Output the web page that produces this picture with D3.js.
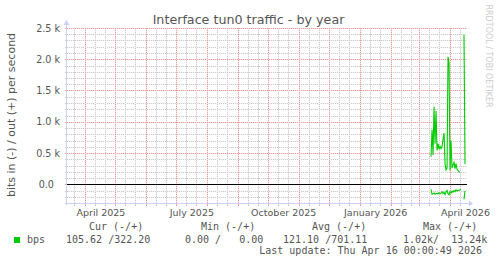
<!DOCTYPE html>
<html>
<head>
<meta charset="utf-8">
<script src="https://cdn.jsdelivr.net/npm/d3@7"></script>
<style>
body { margin: 0; background: #fff; }
svg { display: block; font-family: "DejaVu Sans", sans-serif; }
text { white-space: pre; }
.grid path, .grid rect { shape-rendering: crispEdges; }
</style>
</head>
<body>
<svg width="497" height="264"></svg>
<script>
// données (une valeur par jour)
var dates = ["2026-03-13","2026-03-14","2026-03-15","2026-03-16","2026-03-17","2026-03-18","2026-03-19",
    "2026-03-20","2026-03-21","2026-03-22","2026-03-23","2026-03-24","2026-03-25","2026-03-26",
    "2026-03-27","2026-03-28","2026-03-29","2026-03-30","2026-03-31","2026-04-01","2026-04-02",
    "2026-04-03","2026-04-04","2026-04-05","2026-04-06","2026-04-07","2026-04-08","2026-04-09",
    "2026-04-10","2026-04-11","2026-04-12","2026-04-13","2026-04-14","2026-04-15","2026-04-16"];
var outBps = [440, 870, 470, 1240, 650, 1170, 540, 650, 560, 610, 570, 600, 720, 820,
    330, 230, 260, 2040, 1950, 220, 700, 260, 310, 350, 250, 330, 240, 220,
    200, 190, null, null, null, 2390, 322];
var inBps = [80, 160, 150, 140, 160, 150, 145, 155, 135, 150, 140, 120, 150, 130,
    165, 120, 100, 150, 170, 120, 140, 110, 130, 100, 120, 90, 110, 100,
    95, 90, 85, null, null, 240, 106];
var monthLabels = ["2025-04-16", "2025-07-16", "2025-10-16", "2026-01-16", "2026-04-16"];
var yTicks = [0, 500, 1000, 1500, 2000, 2500];
var legendHeads = ["Cur (-/+)", "Min (-/+)", "Avg (-/+)", "Max (-/+)"];
var legendVals = ["105.62 /322.20", "0.00 /   0.00", "121.10 /701.11", "1.02k/  13.24k"];
var legendHeadX = [89, 201, 312, 423];
var legendValX = [66, 185, 283, 403];

var svg = d3.select("svg");
var plot = {left: 67, right: 467, top: 28, bottom: 203};
var parse = d3.timeParse("%Y-%m-%d");

var x = d3.scaleTime()
    .domain([new Date(2025, 2, 13, 12), new Date(2026, 3, 18)])
    .range([plot.left, plot.right]);
var y = d3.scaleLinear()
    .domain([-300, 2500])
    .range([plot.bottom, plot.top]);

var minorCol = "#cdcdcd", majorCol = "#ee9c9c", axisCol = "#c9d1f7";
var minorBg = "#f1f1f1", majorBg = "#fae0e0";

// pointillés dessinés pixel par pixel (un carré 1x1 sur deux)
function dotsH(yy) {
    var p = d3.path();
    for (var xx = plot.left; xx < plot.right; xx += 2) p.rect(xx, yy, 1, 1);
    return p.toString();
}
function dotsV(xx) {
    var p = d3.path();
    for (var yy = plot.top; yy < plot.bottom; yy += 2) p.rect(xx, yy, 1, 1);
    return p.toString();
}

var g = svg.append("g").attr("class", "grid");
var minorH = y.ticks(28).filter(function(v) { return yTicks.indexOf(v) < 0; });
var days = d3.timeDay.range(x.domain()[0], x.domain()[1]).filter(function(d) {
    return d.getDate() === 11 || d.getDate() === 21;
});
var months = d3.timeMonth.range(x.domain()[0], x.domain()[1]);

function hline(v, col, bg) {
    var yy = Math.round(y(v));
    g.append("rect").attr("x", plot.left).attr("y", yy).attr("width", plot.right - plot.left).attr("height", 1).attr("fill", bg);
    g.append("path").attr("d", dotsH(yy)).attr("fill", col);
    g.append("rect").attr("x", plot.left - 2).attr("y", yy).attr("width", 2).attr("height", 1).attr("fill", col);
}
function vline(d, col, bg) {
    var xx = Math.round(x(d));
    g.append("rect").attr("x", xx).attr("y", plot.top).attr("width", 1).attr("height", plot.bottom - plot.top).attr("fill", bg);
    g.append("path").attr("d", dotsV(xx)).attr("fill", col);
    g.append("rect").attr("x", xx).attr("y", plot.bottom + 1).attr("width", 1).attr("height", 2).attr("fill", col);
}
minorH.forEach(function(v) { hline(v, minorCol, minorBg); });
days.forEach(function(d) { vline(d, minorCol, minorBg); });
yTicks.forEach(function(v) { hline(v, majorCol, majorBg); });
months.forEach(function(d) { vline(d, majorCol, majorBg); });

// axes
svg.append("line").attr("x1", plot.left).attr("x2", plot.right + 2)
    .attr("y1", plot.bottom + 0.5).attr("y2", plot.bottom + 0.5).attr("stroke", axisCol);
svg.append("path").attr("d", "M469,200.5L473,203.5L469,206.5Z").attr("fill", axisCol);
svg.append("line").attr("x1", plot.left - 0.5).attr("x2", plot.left - 0.5)
    .attr("y1", plot.bottom + 2).attr("y2", 24).attr("stroke", axisCol);
svg.append("path").attr("d", "M63.5,25L66.5,20L69.5,25Z").attr("fill", axisCol);

var yAxis = svg.append("g")
    .attr("transform", "translate(" + plot.left + ",0)")
    .call(d3.axisLeft(y).tickValues(yTicks).tickSize(0).tickPadding(7)
        .tickFormat(function(v) {
            return v === 0 ? "0.0  " : d3.format(".1f")(v / 1000) + " k";
        }));
yAxis.select(".domain").remove();
yAxis.selectAll("text")
    .attr("fill", "#555")
    .style("font-family", "'DejaVu Sans', sans-serif")
    .style("font-size", "9.6px");

var xAxis = svg.append("g")
    .attr("transform", "translate(0," + plot.bottom + ")")
    .call(d3.axisBottom(x).tickValues(monthLabels.map(parse)).tickSize(0).tickPadding(6)
        .tickFormat(d3.timeFormat("%B %Y")));
xAxis.select(".domain").remove();
xAxis.selectAll("text")
    .attr("fill", "#555")
    .style("font-family", "'DejaVu Sans', sans-serif")
    .style("font-size", "9.5px");

// ligne zéro
svg.append("line").attr("x1", plot.left).attr("x2", plot.right)
    .attr("y1", Math.round(y(0)) + 0.5).attr("y2", Math.round(y(0)) + 0.5)
    .attr("stroke", "#000").style("shape-rendering", "crispEdges");

// courbes in (-) / out (+)
var data = dates.map(function(d, i) {
    return {date: parse(d), out: outBps[i], inp: inBps[i]};
});
var lineOut = d3.line()
    .defined(function(d) { return d.out !== null; })
    .x(function(d) { return x(d.date); })
    .y(function(d) { return y(d.out); });
var lineIn = d3.line()
    .defined(function(d) { return d.inp !== null; })
    .x(function(d) { return x(d.date); })
    .y(function(d) { return y(-d.inp); });
svg.append("path").datum(data).attr("d", lineIn)
    .attr("fill", "none").attr("stroke", "#00cc00").attr("stroke-width", 1.1);
svg.append("path").datum(data).attr("d", lineOut)
    .attr("fill", "none").attr("stroke", "#00cc00").attr("stroke-width", 1.1);

// titres
svg.append("text").attr("x", 248.5).attr("y", 24.3)
    .attr("text-anchor", "middle").attr("fill", "#555")
    .style("font-size", "12.7px")
    .text("Interface tun0 traffic - by year");
svg.append("text").attr("transform", "translate(15,115) rotate(-90)")
    .attr("text-anchor", "middle").attr("fill", "#555")
    .style("font-size", "11px")
    .text("bits in (-) / out (+) per second");
svg.append("text").attr("transform", "translate(485.8,56) rotate(90)")
    .attr("text-anchor", "middle").attr("fill", "#cccccc")
    .style("font-size", "8px")
    .text("RRDTOOL / TOBI OETIKER");

// légende
var mono = "'DejaVu Sans Mono', monospace";
var leg = svg.append("g").attr("fill", "#555").style("font-family", mono).style("font-size", "10px");
svg.append("rect").attr("x", 14).attr("y", 237).attr("width", 6).attr("height", 6).attr("fill", "#00cc00");
leg.append("text").attr("x", 27).attr("y", 243.3).text("bps");
legendHeads.forEach(function(t, i) {
    leg.append("text").attr("x", legendHeadX[i]).attr("y", 230).text(t);
});
legendVals.forEach(function(t, i) {
    leg.append("text").attr("x", legendValX[i]).attr("y", 243.3).text(t);
});
leg.append("text").attr("x", 482).attr("y", 254).attr("text-anchor", "end")
    .text("Last update: Thu Apr 16 00:00:49 2026");
</script>
</body>
</html>
